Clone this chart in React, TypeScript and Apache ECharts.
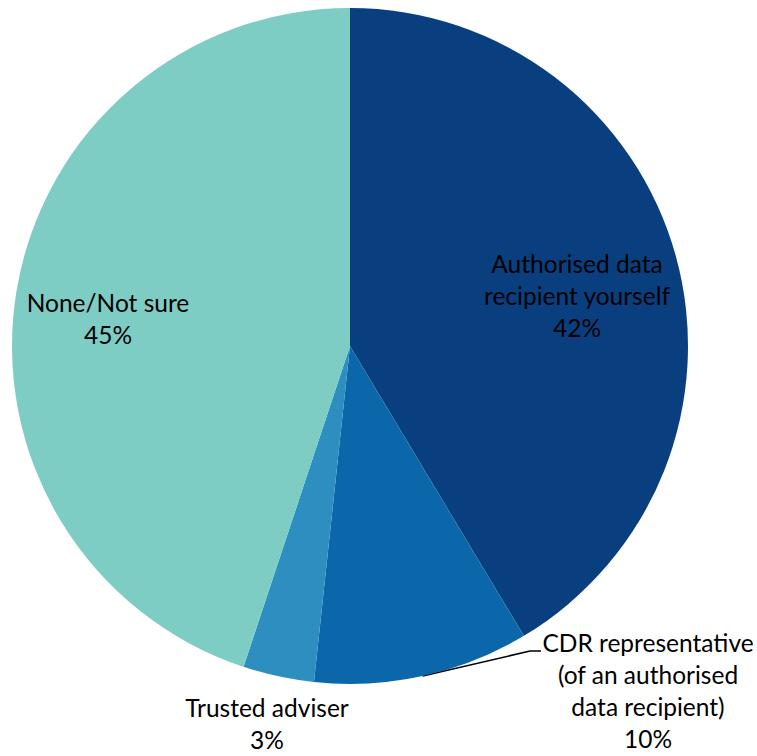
import React, { useEffect, useRef } from "react";
import * as echarts from "echarts";

const categories = [
  "Authorised data\nrecipient yourself",
  "CDR representative\n(of an authorised\ndata recipient)",
  "Trusted adviser",
  "None/Not sure",
];
const values = [41.4, 10.3, 3.4, 44.9];
const shownPercents = [42, 10, 3, 45];
const colors = ["#0A3F7F", "#0B67A9", "#2E8EC0", "#7ECDC5"];
const labelCenters = [
  [577, 295],
  [648, 690],
  [267, 723],
  [108, 318],
];

export default function App() {
  const ref = useRef<HTMLDivElement>(null);
  useEffect(() => {
    const chart = echarts.init(ref.current!, null, { renderer: "svg" });
    chart.setOption({
      animation: false,
      backgroundColor: "#ffffff",
      series: [
        {
          type: "pie",
          center: [350, 346],
          radius: [0, 338],
          startAngle: 90,
          clockwise: true,
          avoidLabelOverlap: false,
          data: categories.map((c, i) => ({
            name: c,
            value: values[i],
            itemStyle: { color: colors[i] },
            labelLine: { show: i === 1, length: 20, length2: 10, lineStyle: { color: "#000", width: 1.5 } },
          })),
          label: {
            show: true,
            position: "outside",
            formatter: (p: any) => `${p.name}\n${shownPercents[p.dataIndex]}%`,
            fontFamily: "Lato, 'Open Sans', sans-serif",
            fontSize: 24.5,
            lineHeight: 32,
            color: "#000",
            align: "center",
          },
          labelLayout: (p: any) => {
            const c = labelCenters[p.dataIndex];
            const out: any = { x: c[0], y: c[1], align: "center", verticalAlign: "middle" };
            if (p.dataIndex === 1 && p.labelLinePoints) {
              const s = p.labelLinePoints[0];
              out.labelLinePoints = [s, [530, 651], [541, 651]];
            }
            return out;
          },
        },
      ],
    });
    return () => chart.dispose();
  }, []);
  return (
    <div
      ref={ref}
      style={{ position: "absolute", left: 0, top: 0, width: 757, height: 756 }}
    />
  );
}
